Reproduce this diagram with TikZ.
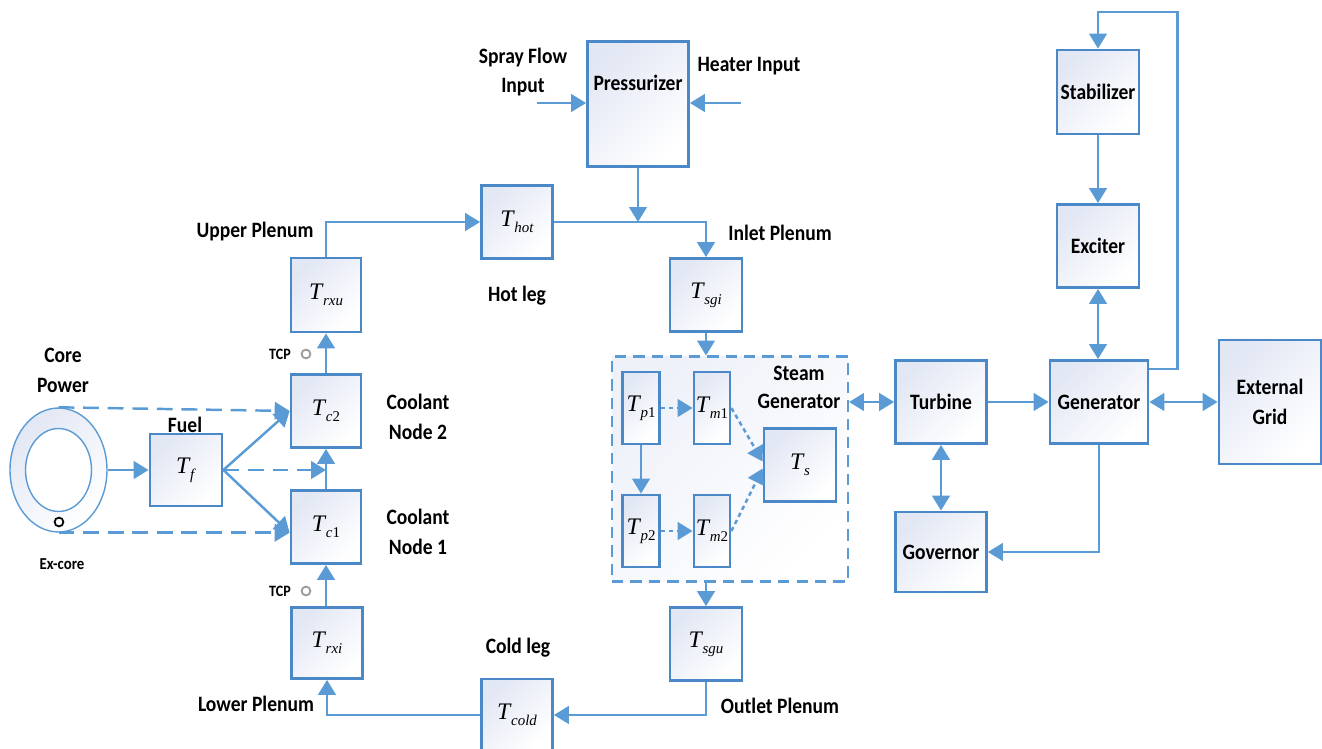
\documentclass[tikz,border=0pt]{standalone}
\usepackage{fontspec}
\setmainfont{Carlito}
\newfontfamily\lblfont{Carlito}[FakeStretch=0.89]
\newfontfamily\varfont{Liberation Serif}
\usepackage{tikz}
\usetikzlibrary{arrows.meta,positioning,shapes.geometric}
\definecolor{lineblue}{HTML}{5B9BD5}
\definecolor{edgeblue}{HTML}{4A88C8}
\definecolor{boxtint}{HTML}{E2E7F4}
\newcommand{\tvar}[1]{{\varfont\mdseries\fontsize{13.5}{13.5}\selectfont\textit{T}\kern-0.3pt\raisebox{-3.5pt}{\fontsize{8.5}{8.5}\selectfont #1}}}

\begin{document}
\begin{tikzpicture}[x=0.02cm, y=-0.02cm,
  box/.style={draw=edgeblue, line width=1.6pt, top color=boxtint, bottom color=white, shading angle=45,
    inner sep=0pt, minimum width=1.42cm, minimum height=1.46cm, align=center,
    font=\lblfont\bfseries\fontsize{12.5}{17}\selectfont},
  thin box/.style={box, minimum width=0.74cm, minimum height=1.44cm},
  flow/.style={draw=lineblue, line width=1.4pt, -{Triangle[length=8.5pt,width=10pt]}},
  twoway/.style={flow, {Triangle[length=8.5pt,width=10pt]}-{Triangle[length=8.5pt,width=10pt]}},
  coredash/.style={flow, dash pattern=on 9pt off 5pt},
  dotflow/.style={flow, dash pattern=on 2.5pt off 2pt},
  lbl/.style={font=\lblfont\bfseries\fontsize{12.5}{17}\selectfont, align=center, inner sep=0pt},
  small/.style={font=\lblfont\bfseries\fontsize{9}{10}\selectfont, inner sep=0pt},
  probe/.style={circle, draw=gray!80, line width=1pt, fill=white, minimum size=5pt, inner sep=0pt}]
\useasboundingbox (0,0) rectangle (1322,749);

% reactor core
\node[ellipse, draw=lineblue, line width=0.8pt, top color=boxtint, bottom color=white, shading angle=45,
  minimum width=1.94cm, minimum height=2.48cm, inner sep=0pt] (ring) at (58.5,470) {};
\draw[lineblue, line width=0.8pt, fill=white] (ring.center) ellipse [x radius=0.66cm, y radius=0.83cm];
\node[probe, draw=black] (excoredot) at (59,522) {};
\node[lbl] (corelbl) at (63,370) {Core\\Power};
\node[small, font=\lblfont\bfseries\fontsize{9.5}{10}\selectfont] (excorelbl) at (62,564) {Ex-core};

\node[box, minimum width=1.44cm, minimum height=1.44cm] (Tf) at (186,470) {\tvar{\textit{f}}};
\node[lbl] (fuellbl) at (185,425) {Fuel};

% primary loop
\node[box, minimum width=1.4cm] (Tc2) at (326,411) {\tvar{\textit{c}2}};
\node[box, minimum width=1.4cm] (Tc1) at (326,527) {\tvar{\textit{c}1}};
\node[box, minimum width=1.4cm, minimum height=1.48cm] (Trxu) at (326,295) {\tvar{\textit{rxu}}};
\node[box, minimum width=1.42cm, minimum height=1.42cm] (Trxi) at (327,643) {\tvar{\textit{rxi}}};
\node[box] (Thot) at (517,222) {\tvar{\textit{hot}}};
\node[box, minimum height=1.44cm] (Tcold) at (517,715) {\tvar{\textit{cold}}};
\node[box, minimum width=1.44cm] (Tsgi) at (706,295) {\tvar{\textit{sgi}}};
\node[box, minimum width=1.44cm] (Tsgu) at (706,644) {\tvar{\textit{sgu}}};
\node[box, minimum width=2.02cm, minimum height=2.5cm] (pzr) at (638,104) {};
\node[lbl] (pzrlbl) at (638,83) {Pressurizer};
\coordinate (spray) at (537,103);
\coordinate (heater) at (741,103);

\node[lbl] (coolant2) at (418,417) {Coolant\\Node 2};
\node[lbl] (coolant1) at (418,532) {Coolant\\Node 1};
\node[small] (tcpup) at (280,354) {TCP};
\node[probe] (tcpupdot) at (306,354) {};
\node[small] (tcpdown) at (280,591) {TCP};
\node[probe] (tcpdowndot) at (306,591) {};
\node[lbl] (upperlbl) at (255,232) {Upper Plenum};
\node[lbl] (hotlbl) at (517,296) {Hot leg};
\node[lbl] (inletlbl) at (780,233) {Inlet Plenum};
\node[lbl] (lowerlbl) at (256,704) {Lower Plenum};
\node[lbl] (coldlbl) at (518,648) {Cold leg};
\node[lbl] (outletlbl) at (780,706) {Outlet Plenum};
\node[lbl] (spraylbl) at (523,72) {Spray Flow\\Input};
\node[lbl] (heaterlbl) at (749,66) {Heater Input};

% steam generator
\node[draw=lineblue, line width=1.2pt, dash pattern=on 6.5pt off 4pt, top color=boxtint!60, bottom color=white,
  shading angle=45, minimum width=4.72cm, minimum height=4.5cm, inner sep=0pt] (sg) at (730,469) {};
\node[thin box] (Tp1) at (641,408) {\tvar{\textit{p}1}};
\node[thin box, minimum width=0.72cm] (Tm1) at (712,408) {\tvar{\textit{m}1}};
\node[thin box] (Tp2) at (641,531) {\tvar{\textit{p}2}};
\node[thin box, minimum width=0.72cm] (Tm2) at (712,531) {\tvar{\textit{m}2}};
\node[box, minimum width=1.44cm] (Ts) at (800,465) {\tvar{\textit{s}}};
\node[lbl, font=\lblfont\bfseries\fontsize{12.5}{16}\selectfont] (sglbl) at (799,387) {Steam\\Generator};

% electrical side
\node[box, minimum width=1.82cm, minimum height=1.66cm] (turbine) at (941,402) {Turbine};
\node[box, minimum width=1.96cm, minimum height=1.66cm] (gen) at (1099,402) {Generator};
\node[box, minimum width=2.04cm, minimum height=2.48cm] (grid) at (1270,402) {External\\Grid};
\node[box, minimum width=1.82cm, minimum height=1.6cm] (governor) at (941,552) {Governor};
\node[box, minimum width=1.64cm, minimum height=1.68cm] (stab) at (1098,92) {Stabilizer};
\node[box, minimum width=1.64cm, minimum height=1.66cm] (exciter) at (1098,246) {Exciter};

% connectors
\draw[flow] (ring.east) -- (Tf.west);
\draw[coredash] (ring.north) -- (Tc2.west);
\draw[coredash] (ring.south) -- (Tc1.west |- ring.south);
\draw[flow] (Tf.east) -- (Tc2.west);
\draw[flow] (Tf.east) -- (Tc1.west |- ring.south);
\draw[coredash] (Tf.east) -- (Tc1.north |- Tf.east);
\draw[flow] (Trxi.north -| Tc1.south) -- (Tc1.south);
\draw[flow] (Tc1.north) -- (Tc2.south);
\draw[flow] (Tc2.north) -- (Trxu.south);
\draw[flow] (Trxu.north) |- (Thot.west);
\draw[flow] (Thot.east) -| (Tsgi.north);
\draw[flow] (pzr.south) -- (pzr.south |- Thot.east);
\draw[flow] (spray) -- (pzr.west |- spray);
\draw[flow] (heater) -- (pzr.east |- heater);
\draw[flow] (Tsgi.south) -- (Tsgi.south |- sg.north);
\draw[flow] (Tsgu.north |- sg.south) -- (Tsgu.north);
\draw[flow] (Tsgu.south) |- (Tcold.east);
\draw[flow] (Tcold.west) -| (Trxi.south);

\draw[dotflow] (Tp1.east) -- (Tm1.west);
\draw[dotflow] (Tp2.east) -- (Tm2.west);
\draw[flow] (Tp1.south) -- (Tp2.north);
\draw[dotflow] (Tm1.east) -- ([yshift=2pt]Ts.west);
\draw[dotflow] (Tm2.east) -- ([yshift=-2pt]Ts.west);

\draw[twoway] (sg.east |- turbine.west) -- (turbine.west);
\draw[flow] (turbine.east) -- (gen.west);
\draw[twoway] (gen.east) -- (grid.west);
\draw[twoway] (turbine.south) -- (governor.north);
\draw[flow] (gen.south) |- (governor.east);
\draw[flow] (stab.south) -- (stab.south |- exciter.north);
\draw[twoway] (exciter.south) -- (exciter.south |- gen.north);
\draw[flow] ([yshift=0.66cm]gen.east) -| ++(28,-357) -| (stab.north);
\end{tikzpicture}
\end{document}
